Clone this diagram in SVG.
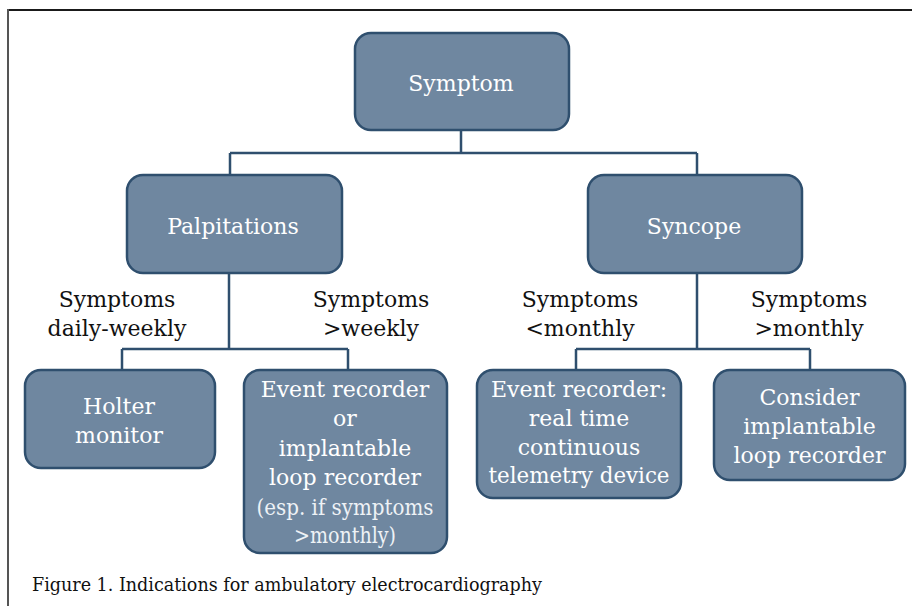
<svg xmlns="http://www.w3.org/2000/svg" width="912" height="606" viewBox="0 0 912 606">
<style>
.box{fill:#6f87a0;stroke:#2f4f6e;stroke-width:2.5}
.bt{font-family:"DejaVu Serif","Liberation Serif",serif;font-size:22px;fill:#ffffff;text-anchor:middle}
.lt{font-family:"DejaVu Serif","Liberation Serif",serif;font-size:22px;fill:#eef2f6;text-anchor:middle}
.lab{font-family:"DejaVu Serif","Liberation Serif",serif;font-size:22px;fill:#111111;text-anchor:middle}
.cap{font-family:"DejaVu Serif Condensed","DejaVu Serif","Liberation Serif",serif;font-size:19px;fill:#111111}
.ln{fill:none;stroke:#2f4f6e;stroke-width:2.5}
</style>
<rect x="0" y="0" width="912" height="606" fill="#ffffff"/>
<g id="frame">
<line x1="8" y1="10" x2="912" y2="10" stroke="#1a1a1a" stroke-width="2"/>
<line x1="8" y1="9" x2="8" y2="606" stroke="#555555" stroke-width="2"/>
</g>
<g id="connectors">
<path class="ln" d="M461,131 V153 M230,153 H697 M230,153 V175 M697,153 V175"/>
<path class="ln" d="M229,273 V349 M122,349 H348 M122,349 V370 M348,349 V370"/>
<path class="ln" d="M697,273 V349 M576,349 H810 M576,349 V370 M810,349 V370"/>
</g>
<g id="symptom">
<rect class="box" x="355" y="33" width="214" height="97" rx="16"/>
<text class="bt" x="461" y="91">Symptom</text>
</g>
<g id="palpitations">
<rect class="box" x="127" y="175" width="215" height="98" rx="16"/>
<text class="bt" x="233" y="234">Palpitations</text>
</g>
<g id="syncope">
<rect class="box" x="588" y="175" width="214" height="98" rx="16"/>
<text class="bt" x="694" y="234">Syncope</text>
</g>
<g id="labels">
<text class="lab" x="117" y="307">Symptoms</text>
<text class="lab" x="117" y="336">daily-weekly</text>
<text class="lab" x="371" y="307">Symptoms</text>
<text class="lab" x="371" y="336">&gt;weekly</text>
<text class="lab" x="580" y="307">Symptoms</text>
<text class="lab" x="580" y="336">&lt;monthly</text>
<text class="lab" x="809" y="307">Symptoms</text>
<text class="lab" x="809" y="336">&gt;monthly</text>
</g>
<g id="holter">
<rect class="box" x="25" y="370" width="190" height="98" rx="16"/>
<text class="bt" x="119" y="414">Holter</text>
<text class="bt" x="119" y="443">monitor</text>
</g>
<g id="event-or-ilr">
<rect class="box" x="244" y="370" width="203" height="183" rx="16"/>
<text class="bt" x="345" y="397">Event recorder</text>
<text class="bt" x="345" y="426">or</text>
<text class="bt" x="345" y="456">implantable</text>
<text class="bt" x="345" y="485">loop recorder</text>
<text class="lt" x="345" y="515" textLength="177" lengthAdjust="spacingAndGlyphs">(esp. if symptoms</text>
<text class="lt" x="345" y="543" textLength="102" lengthAdjust="spacingAndGlyphs">&gt;monthly)</text>
</g>
<g id="event-realtime">
<rect class="box" x="477" y="370" width="204" height="128" rx="16"/>
<text class="bt" x="579" y="397">Event recorder:</text>
<text class="bt" x="579" y="426">real time</text>
<text class="bt" x="579" y="455">continuous</text>
<text class="bt" x="579" y="483" textLength="181" lengthAdjust="spacingAndGlyphs">telemetry device</text>
</g>
<g id="consider-ilr">
<rect class="box" x="714" y="370" width="191" height="110" rx="16"/>
<text class="bt" x="809.5" y="405">Consider</text>
<text class="bt" x="809.5" y="434">implantable</text>
<text class="bt" x="809.5" y="463">loop recorder</text>
</g>
<text class="cap" x="32" y="591" textLength="510" lengthAdjust="spacingAndGlyphs">Figure 1. Indications for ambulatory electrocardiography</text>
</svg>
